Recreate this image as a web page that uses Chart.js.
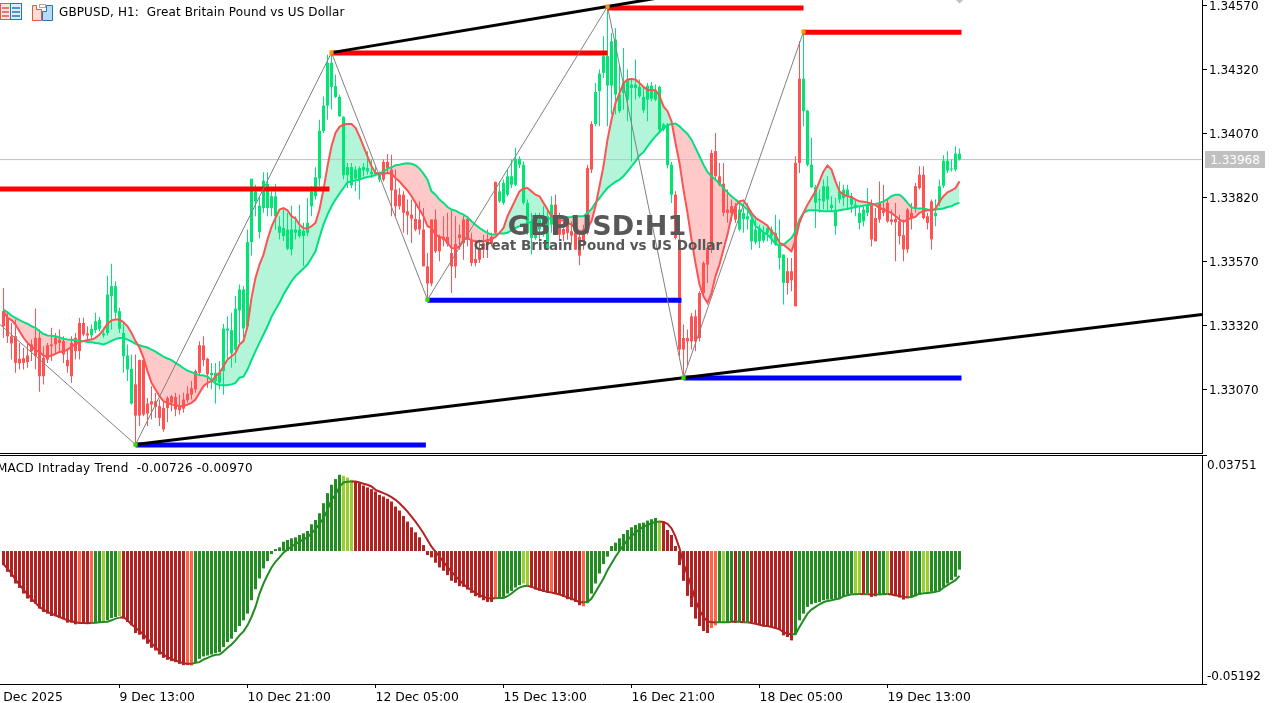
<!DOCTYPE html>
<html><head><meta charset="utf-8">
<style>
html,body{margin:0;padding:0;background:#fff;width:1279px;height:703px;overflow:hidden}
canvas{position:absolute;left:0;display:block}
.t{position:absolute;white-space:pre;font-family:"DejaVu Sans",sans-serif;font-size:12px;line-height:14px;color:#000;z-index:5}
.rule{position:absolute;background:#000;height:1px;z-index:4}
</style>
<script src="https://cdn.jsdelivr.net/npm/chart.js@4"></script>
</head><body>
<svg style="position:absolute;left:0;top:3px;z-index:5" width="56" height="18" viewBox="0 0 56 18">
<rect x="0.5" y="0.5" width="10" height="16" fill="#fbe3df" stroke="#e0584c"/><rect x="10.5" y="0.5" width="11" height="16" fill="#dcecf8" stroke="#1f78b4"/>
<path d="M2 5h7M2 9h7M2 13h7" stroke="#e0584c" stroke-width="1.5"/><path d="M12 5h8M12 9h8M12 13h8" stroke="#1f78b4" stroke-width="1.5"/>
<path d="M32.5 2.5h4v4h5v11h-9z" fill="#fbdcd6" stroke="#e0584c"/><path d="M46.5 2.5h6v15h-10v-9h4z" fill="#b9dcf5" stroke="#1f78b4"/><rect x="39.5" y="1.5" width="6" height="3" fill="#fff" stroke="#aaa"/>
</svg>
<canvas id="top" width="1279" height="453" style="top:0;width:1279px;height:453px"></canvas>
<canvas id="bot" width="1279" height="248" style="top:455px;width:1279px;height:248px"></canvas>
<div class="rule" style="left:0;top:453px;width:1203px"></div>
<div class="rule" style="left:0;top:455px;width:1207px"></div>
<div class="t" style="left:59px;top:5px;letter-spacing:.11px">GBPUSD, H1:  Great Britain Pound vs US Dollar</div>
<div class="t" style="left:-3px;top:461px;letter-spacing:.26px">MACD Intraday Trend  -0.00726 -0.00970</div>
<div class="t" style="left:497px;top:209px;width:200px;text-align:center;font:bold 27px 'DejaVu Sans',sans-serif;line-height:34px;color:#585858">GBPUSD:H1</div>
<div class="t" style="left:463px;top:237px;width:270px;text-align:center;font:bold 13.5px 'DejaVu Sans',sans-serif;line-height:16px;color:#585858">Great Britain Pound vs US Dollar</div>
<div class="t" style="left:1205px;top:151px;width:60px;height:17px;background:#c0c0c0;color:#fff;text-align:center;line-height:18px">1.33968</div>
<script>
// Prices are stored as points above 1.30000 (3968 = 1.33968). MACD values are in 1e-5 units.
const opens=[3376,3350,3278,3278,3190,3192,3203,3246,3272,3272,
3194,3243,3246,3272,3265,3259,3185,3252,3272,3330,
3330,3289,3281,3302,3307,3281,3291,3435,3370,3307,
3200,3148,3015,3090,3185,3185,3015,3024,3024,3005,
2998,3037,3044,3041,3005,3031,3054,3075,3142,3243,
3242,3190,3126,3103,3096,3142,3300,3211,3226,3379,
3308,3317,3646,3805,3685,3779,3779,3779,3747,3682,
3669,3620,3617,3682,3669,3669,3682,3786,3825,3894,
4079,4179,4252,4213,4137,3907,3907,3868,3894,3890,
3926,3922,3911,3911,3890,3959,3959,3929,3851,3831,
3831,3766,3753,3736,3734,3695,3551,3734,3734,3668,
3666,3666,3603,3639,3675,3734,3736,3655,3580,3623,
3642,3658,3666,3881,3805,3799,3831,3870,3870,3948,
3799,3682,3662,3662,3695,3714,3616,3714,3792,3740,
3697,3740,3688,3682,3666,3697,3935,4107,4107,4235,
4307,4257,4257,4222,4157,4228,4202,4248,4248,4215,
4161,4202,4206,4202,4085,4085,3946,3831,3831,3656,
3271,3271,3356,3356,3447,3564,3623,3994,4001,3903,
3874,3773,3786,3786,3695,3736,3734,3649,3645,3649,
3652,3682,3669,3636,3584,3486,3532,3532,3955,4284,
4157,3948,3860,3799,3809,3805,3812,3779,3708,3812,
3818,3825,3792,3779,3721,3727,3760,3792,3740,3799,
3779,3799,3734,3736,3727,3673,3773,3760,3864,3909,
3909,3747,3805,3747,3799,3866,3925,3929,3929,3968];
const closes=[3317,3278,3250,3174,3172,3174,3177,3220,3200,3122,
3122,3187,3239,3246,3252,3207,3161,3122,3220,3220,
3285,3281,3307,3337,3341,3289,3441,3474,3474,3376,
3291,3203,3151,2968,2968,2972,2976,3011,3002,2959,
2914,2998,3018,2992,2989,2995,3028,3050,3070,3135,
3185,3129,3135,3135,3135,3308,3308,3302,3386,3461,
3461,3646,3893,3844,3788,3886,3873,3825,3825,3708,
3701,3695,3695,3695,3695,3690,3721,3844,3899,4081,
4179,4346,4346,4255,4213,4135,3939,3939,3929,3935,
3939,3935,3921,3919,3909,3890,3935,3848,3786,3786,
3760,3750,3737,3695,3695,3551,3484,3484,3610,3610,
3655,3639,3551,3551,3662,3642,3655,3564,3564,3577,
3616,3642,3640,3682,3844,3877,3903,3903,3971,3971,
3948,3799,3727,3734,3734,3747,3747,3792,3740,3675,
3675,3682,3671,3616,3593,3649,3682,3929,4232,4304,
4372,4372,4430,4437,4222,4267,4281,4261,4261,4252,
4213,4257,4257,4239,4252,4105,4105,3948,3662,3226,
3226,3258,3258,3258,3271,3447,3558,3623,3903,3870,
3760,3760,3760,3734,3773,3760,3747,3734,3695,3701,
3682,3701,3695,3682,3636,3597,3486,3497,3395,3955,
4284,4159,3948,3860,3814,3864,3864,3792,3773,3844,
3851,3851,3825,3792,3760,3773,3792,3656,3649,3734,
3760,3727,3725,3723,3669,3617,3617,3740,3779,3857,
3740,3721,3656,3760,3864,3964,3964,3933,3991,3991];
const highs=[3467,3370,3330,3343,3252,3233,3252,3265,3386,3304,
3239,3252,3311,3291,3304,3278,3226,3278,3291,3350,
3350,3317,3324,3370,3354,3311,3515,3561,3493,3389,
3330,3246,3207,3207,3187,3187,3037,3083,3057,3031,
3031,3044,3050,3057,3050,3057,3083,3103,3148,3259,
3278,3194,3174,3174,3181,3327,3356,3370,3435,3480,
3474,3695,3893,3870,3825,3919,3919,3844,3873,3747,
3779,3760,3788,3747,3792,3721,3818,3864,3938,4124,
4215,4378,4385,4300,4222,4137,3955,3955,3942,3942,
3955,4001,3968,3942,3922,3968,3990,3987,3929,3857,
3844,3812,3812,3805,3805,3779,3603,3734,3773,3675,
3747,3760,3773,3747,3714,3747,3747,3682,3655,3655,
3675,3695,3682,3883,3883,3890,3929,3968,4014,3981,
3961,3812,3760,3760,3760,3786,3773,3825,3831,3760,
3727,3747,3727,3695,3682,3714,3948,4118,4267,4320,
4450,4554,4463,4482,4333,4404,4320,4287,4359,4281,
4248,4267,4271,4261,4257,4111,4111,3959,3844,3682,
3324,3304,3369,3382,3454,3571,3643,4007,4072,3955,
3955,3851,3812,3799,3799,3779,3799,3753,3747,3714,
3708,3714,3708,3753,3734,3597,3584,3584,3981,4430,
4463,4163,4053,3870,3851,3890,3903,3825,3818,3883,
3870,3870,3838,3812,3786,3792,3857,3812,3779,3883,
3870,3818,3773,3799,3753,3734,3779,3799,3877,3942,
3942,3760,3812,3812,3890,3985,4001,3968,4020,4011];
const lows=[3272,3252,3187,3135,3148,3148,3155,3181,3148,3061,
3090,3174,3181,3213,3213,3174,3135,3096,3187,3187,
3278,3259,3265,3291,3298,3272,3281,3304,3343,3291,
3135,3103,3011,2862,2927,2966,2927,2953,2959,2927,
2905,2942,2985,2966,2972,2979,3018,3031,3057,3122,
3161,3077,3070,3015,3070,3050,3187,3155,3174,3252,
3272,3304,3593,3747,3660,3760,3747,3747,3695,3656,
3650,3614,3593,3656,3662,3552,3669,3747,3812,3864,
4072,4124,4163,4209,4135,3890,3857,3857,3844,3812,
3903,3909,3896,3903,3880,3883,3916,3747,3747,3773,
3682,3675,3642,3688,3675,3551,3428,3473,3603,3571,
3629,3629,3447,3506,3616,3577,3629,3551,3551,3564,
3584,3584,3629,3675,3799,3792,3825,3857,3864,3935,
3792,3675,3597,3655,3623,3668,3616,3682,3727,3655,
3649,3655,3636,3616,3555,3616,3675,3916,4098,4098,
4287,4098,4144,4144,4150,4163,4118,3961,4202,4209,
4150,4118,4196,4196,4079,4079,3933,3799,3656,3200,
3128,3161,3226,3219,3258,3441,3486,3603,3890,3864,
3747,3721,3727,3721,3688,3682,3695,3616,3636,3623,
3643,3649,3636,3632,3538,3402,3441,3454,3395,3916,
4098,3942,3857,3701,3760,3773,3766,3766,3675,3799,
3786,3779,3760,3747,3695,3708,3747,3629,3649,3721,
3747,3721,3714,3571,3636,3571,3603,3695,3760,3851,
3734,3695,3616,3708,3786,3857,3916,3922,3922,3965];
const fastMA=[3376,3350,3341,3324,3298,3272,3252,3237,3224,3216,
3203,3196,3203,3209,3217,3218,3226,3237,3246,3255,
3259,3263,3265,3272,3285,3304,3327,3341,3343,3343,
3333,3317,3291,3259,3233,3194,3142,3096,3070,3044,
3024,3018,3011,3009,3005,3005,3011,3018,3031,3057,
3083,3096,3103,3122,3135,3161,3187,3200,3213,3246,
3259,3317,3428,3506,3558,3597,3656,3705,3740,3773,
3779,3770,3747,3738,3714,3701,3698,3708,3721,3773,
3851,3942,4020,4072,4096,4105,4107,4107,4092,4059,
4020,3981,3942,3916,3913,3913,3916,3913,3896,3883,
3864,3848,3825,3799,3773,3747,3708,3701,3675,3666,
3662,3642,3623,3620,3629,3655,3662,3653,3648,3648,
3649,3652,3658,3666,3682,3701,3747,3779,3812,3844,
3855,3857,3844,3831,3825,3799,3773,3747,3734,3731,
3730,3721,3714,3701,3688,3688,3701,3727,3786,3864,
3942,4046,4124,4189,4228,4267,4281,4283,4281,4267,
4252,4241,4239,4239,4218,4176,4157,4118,4033,3955,
3851,3760,3656,3564,3480,3434,3408,3447,3512,3558,
3617,3675,3747,3786,3805,3809,3786,3760,3740,3731,
3721,3710,3688,3675,3643,3636,3623,3610,3656,3721,
3760,3792,3818,3844,3883,3922,3945,3929,3883,3844,
3831,3825,3822,3812,3805,3803,3801,3796,3790,3779,
3773,3766,3760,3747,3734,3725,3734,3740,3744,3760,
3766,3770,3770,3775,3805,3825,3840,3848,3857,3883];
const slowMA=[3382,3372,3359,3350,3341,3333,3327,3317,3311,3298,
3287,3281,3280,3278,3273,3268,3265,3264,3263,3260,
3259,3256,3255,3252,3250,3246,3252,3260,3267,3271,
3271,3265,3258,3248,3243,3238,3234,3226,3218,3208,
3198,3191,3185,3174,3164,3153,3144,3138,3131,3127,
3125,3120,3106,3093,3088,3087,3088,3090,3096,3116,
3120,3148,3185,3220,3252,3285,3317,3354,3382,3409,
3441,3467,3493,3513,3528,3543,3558,3584,3610,3665,
3714,3753,3786,3812,3835,3857,3880,3883,3887,3890,
3896,3900,3903,3908,3913,3922,3933,3938,3946,3948,
3952,3954,3952,3946,3933,3913,3890,3844,3831,3812,
3799,3783,3773,3769,3760,3753,3743,3727,3714,3701,
3691,3682,3675,3676,3679,3679,3682,3692,3701,3708,
3714,3718,3727,3736,3739,3737,3736,3739,3740,3740,
3741,3743,3744,3747,3747,3747,3760,3775,3799,3818,
3838,3857,3870,3881,3890,3903,3922,3942,3961,3984,
3997,4020,4040,4059,4076,4092,4102,4107,4109,4098,
4083,4068,4046,4014,3981,3948,3920,3903,3890,3874,
3857,3840,3825,3812,3799,3786,3773,3747,3708,3697,
3684,3675,3658,3640,3632,3635,3649,3662,3688,3734,
3760,3769,3770,3770,3768,3766,3766,3766,3766,3770,
3773,3775,3779,3783,3786,3788,3791,3792,3795,3799,
3805,3814,3825,3831,3831,3818,3799,3782,3778,3777,
3777,3773,3771,3773,3775,3777,3783,3786,3795,3799];
const macdHist=[-549,-810,-1006,-1268,-1438,-1660,-1856,-1987,-2052,-2248,
-2379,-2444,-2536,-2549,-2614,-2666,-2797,-2797,-2862,-2810,
-2810,-2836,-2810,-2771,-2771,-2732,-2705,-2614,-2575,-2536,
-2640,-2771,-2902,-3202,-3268,-3450,-3620,-3777,-3882,-4039,
-4169,-4248,-4300,-4339,-4405,-4457,-4457,-4470,-4339,-4209,
-4117,-4078,-4039,-3986,-3947,-3751,-3555,-3424,-3163,-2928,
-2705,-2444,-1921,-1490,-1072,-680,-392,-118,78,144,
366,431,497,536,627,693,784,1046,1216,1477,
1869,2261,2588,2810,2980,2941,2875,2784,2719,2653,
2562,2483,2418,2326,2196,2130,2039,1934,1738,1581,
1372,1150,928,732,536,235,-157,-248,-457,-640,
-771,-941,-1163,-1242,-1372,-1398,-1503,-1634,-1764,-1817,
-1921,-1987,-1987,-1856,-1830,-1791,-1660,-1555,-1425,-1333,
-1268,-1372,-1425,-1503,-1555,-1595,-1634,-1595,-1660,-1686,
-1791,-1882,-1921,-1987,-2117,-2157,-2026,-1660,-1268,-876,
-510,-222,196,327,497,667,823,928,1019,1085,
1111,1189,1242,1294,1150,1150,823,627,196,-549,
-1163,-1751,-2183,-2640,-2928,-3124,-3202,-3006,-2902,-2771,
-2771,-2771,-2771,-2810,-2771,-2797,-2771,-2771,-2836,-2875,
-2941,-2941,-2967,-3032,-3071,-3294,-3359,-3490,-3254,-2705,
-2444,-2183,-2078,-2026,-1987,-1921,-1895,-1882,-1856,-1830,
-1764,-1699,-1660,-1660,-1660,-1686,-1660,-1791,-1764,-1725,
-1686,-1660,-1686,-1764,-1817,-1895,-1856,-1791,-1764,-1699,
-1595,-1595,-1595,-1595,-1529,-1398,-1268,-1137,-1006,-726];
const macdSignal=[-510,-680,-876,-1111,-1307,-1503,-1686,-1856,-2026,-2183,
-2287,-2379,-2444,-2509,-2575,-2640,-2705,-2745,-2784,-2810,
-2810,-2823,-2810,-2797,-2784,-2771,-2758,-2705,-2640,-2601,
-2575,-2705,-2862,-2993,-3124,-3254,-3424,-3594,-3751,-3921,
-4039,-4143,-4209,-4274,-4326,-4378,-4405,-4405,-4365,-4339,
-4235,-4169,-4104,-4052,-4039,-3921,-3777,-3647,-3490,-3294,
-3137,-2902,-2575,-2183,-1660,-1268,-941,-640,-418,-248,
-65,65,170,274,366,457,536,693,849,1059,
1281,1608,2000,2196,2522,2679,2705,2719,2719,2679,
2627,2588,2522,2392,2326,2261,2196,2104,2000,1869,
1712,1542,1346,1150,928,693,431,170,-26,-222,
-418,-614,-810,-980,-1137,-1294,-1425,-1529,-1634,-1725,
-1791,-1830,-1856,-1843,-1830,-1830,-1764,-1660,-1529,-1425,
-1372,-1359,-1398,-1451,-1503,-1555,-1595,-1621,-1660,-1699,
-1751,-1804,-1856,-1921,-2000,-2000,-2000,-1856,-1595,-1333,
-1072,-745,-484,-222,13,235,431,588,719,849,
954,1019,1085,1137,1150,1137,1059,889,562,105,
-484,-941,-1398,-1921,-2313,-2575,-2745,-2784,-2784,-2784,
-2784,-2784,-2771,-2745,-2771,-2784,-2784,-2810,-2836,-2875,
-2915,-2928,-2967,-3006,-3058,-3163,-3228,-3254,-3254,-2967,
-2705,-2444,-2287,-2183,-2078,-2000,-1947,-1921,-1882,-1856,
-1764,-1725,-1686,-1686,-1673,-1686,-1686,-1699,-1699,-1686,
-1686,-1673,-1699,-1725,-1751,-1791,-1804,-1791,-1725,-1673,
-1647,-1634,-1621,-1595,-1555,-1425,-1333,-1229,-1137,-970];
const macdState=("RRRRRRRRRR"+"RRRRRRRRRO"+"RROGGYGGGY"+"RRRRRRRRRR"+"RRRRRROOGG"+"GGGGGGGGGG"+"GGGGGGGGGG"+"GGGGGGGGGG"+
"GGGGGYYYRR"+"RRRRRRRRRR"+"RRRRRRRRRR"+"RRRRRRRRRR"+"RRROGGGGGG"+"YYRRRRRORR"+"RRRRROGGGG"+"GGGGGGGGGG"+
"GGGGYRRRRR"+"RRRRRRROOG"+"YGGRGRGRRR"+"RRRRRRRRGG"+"GGGGGGGGGG"+"GGGYYRGRRG"+"GYRRRROGGG"+"YYGGGGGGGG").split("");
const stateColors={R:"#b22222",O:"#ff6347",G:"#228b22",Y:"#9acd32"};

const priceTicks=[4570,4320,4070,3820,3570,3320,3070];
const priceLabelNudge=6;
const bidPrice=3968;
const xTickBars=[-3,29,61,93,125,157,189,221];
const xTickLabels=["8 Dec 2025","9 Dec 13:00","10 Dec 21:00","12 Dec 05:00","15 Dec 13:00","16 Dec 21:00","18 Dec 05:00","19 Dec 13:00"];
const macdTickValues=[3751,3320,-4917,-5192];
const macdTickLabels=["","0.03751","-0.05192",""];
// [first bar, last bar, price]
const resistanceLevels=[[-1,81.5,3853],[82,151,4384],[151,200,4560],[200,239.5,4466]];
const supportLevels=[[33,105.6,2853],[106,169.5,3419],[170,239.5,3115]];
const zigzagBars=[-0.875,33,82,106,151,170,200];
const zigzagPrices=[3324,2855,4386,3421,4566,3116,4468];
const lowerTrendBars=[33,170,299.625];
const lowerTrendPrices=[2855,3116,3363];
const upperTrendBars=[82,151,165];
const upperTrendPrices=[4386,4566,4603];

const UP="#00e676", DOWN="#ff5252", LEVEL_R="#ff0000", LEVEL_B="#0000ff";
const FONT="'DejaVu Sans',sans-serif";
const xMin=-0.875, xMax=299.625;
const bars=opens.map((_,i)=>i);
const candleColor=bars.map(i=>closes[i]>=opens[i]?UP:DOWN);
const priceLabel=v=>((130000+v)/100000).toFixed(5);
const nPrice=priceTicks.length;

const fixAxis=(w,h)=>s=>{ if(w)s.width=w; if(h)s.height=h; s.paddingTop=s.paddingBottom=s.paddingLeft=s.paddingRight=0; };
const common={responsive:false,animation:false,devicePixelRatio:1,events:[],
  layout:{padding:0,autoPadding:false},
  plugins:{legend:{display:false},tooltip:{enabled:false},filler:{drawTime:"beforeDatasetsDraw",propagate:false}}};
const seg=(xs,ys,color,width,order)=>({type:"line",data:xs.map((x,i)=>({x,y:ys[i]})),borderColor:color,borderWidth:width,pointRadius:0,fill:false,order,tension:0,borderCapStyle:"butt"});
const level=(l,color)=>seg([l[0],l[1]],[l[2],l[2]],color,5,30);

const topDatasets=[
  {type:"bar",data:bars.map(i=>({x:i,y:[lows[i],highs[i]]})),backgroundColor:candleColor,barThickness:1,borderWidth:0,inflateAmount:0,grouped:false,order:51},
  {type:"bar",data:bars.map(i=>({x:i,y:[opens[i],closes[i]]})),backgroundColor:candleColor,barThickness:3,borderWidth:0,inflateAmount:0,grouped:false,minBarLength:1,order:50},
  {type:"line",data:bars.map(i=>({x:i,y:slowMA[i]})),borderColor:"#00e080",borderWidth:2,pointRadius:0,tension:0,fill:false,order:40},
  {type:"line",data:bars.map(i=>({x:i,y:fastMA[i]})),borderColor:"#ff5252",borderWidth:2,pointRadius:0,tension:0,order:39,
    fill:{target:2,above:"#b3f5d8",below:"#ffc9c9"}},
  seg([xMin,xMax],[bidPrice,bidPrice],"#c0c0c0",1,60),
  ...resistanceLevels.map(l=>level(l,LEVEL_R)),
  ...supportLevels.map(l=>level(l,LEVEL_B)),
  seg(zigzagBars,zigzagPrices,"#808080",1,20),
  seg(lowerTrendBars,lowerTrendPrices,"#000",3,10),
  seg(upperTrendBars,upperTrendPrices,"#000",3,10),
  {type:"scatter",data:[82,151,200].map(x=>({x,y:zigzagPrices[zigzagBars.indexOf(x)]})),pointStyle:"rect",pointRadius:3,pointBackgroundColor:"#ff9800",pointBorderWidth:0,order:5},
  {type:"scatter",data:[33,106,170].map(x=>({x,y:zigzagPrices[zigzagBars.indexOf(x)]})),pointStyle:"rect",pointRadius:3,pointBackgroundColor:"#33dd00",pointBorderWidth:0,order:5},
  {type:"scatter",data:[{x:239,y:4593}],pointStyle:"rectRot",pointRadius:4,pointBackgroundColor:"#c0c0c0",pointBorderWidth:0,order:5}
];
new Chart(document.getElementById("top"),{type:"bar",data:{datasets:topDatasets},options:{...common,
  scales:{
    x:{type:"linear",display:false,min:xMin,max:xMax,offset:false,grid:{offset:false}},
    y:{type:"linear",position:"right",min:2822,max:4591.5,
      afterFit:fixAxis(77,0),
      afterBuildTicks:s=>{s.ticks=[...priceTicks.map(value=>({value})),...priceTicks.map(v=>({value:v-priceLabelNudge}))];},
      border:{color:"#000",width:1},
      grid:{drawOnChartArea:false,tickLength:5,tickColor:c=>c.index<nPrice?"#000":"transparent",tickWidth:1},
      ticks:{padding:2,color:"#000",font:{family:FONT,size:12},autoSkip:false,
        callback:(v,i)=>i<nPrice?"":priceLabel(priceTicks[i-nPrice])}}
  }}});

const lineState=i=>macdState[i]==="G"||macdState[i]==="Y"?"#228b22":"#b22222";
new Chart(document.getElementById("bot"),{type:"bar",data:{datasets:[
  {type:"bar",data:bars.map(i=>({x:i,y:macdHist[i]})),backgroundColor:bars.map(i=>stateColors[macdState[i]]),barThickness:3,borderWidth:0,inflateAmount:0,grouped:false,order:2},
  {type:"line",data:bars.map(i=>({x:i,y:macdSignal[i]})),borderWidth:2,pointRadius:0,tension:0,fill:false,order:1,borderColor:"#228b22",
    segment:{borderColor:c=>lineState(c.p1DataIndex)}}
]},options:{...common,
  scales:{
    x:{type:"linear",position:"bottom",min:xMin,max:xMax,offset:false,
      afterFit:fixAxis(0,19),
      afterBuildTicks:s=>{s.ticks=xTickBars.map(value=>({value}));},
      border:{color:"#000",width:1},
      grid:{drawOnChartArea:false,offset:false,tickLength:4,tickColor:"#000"},
      ticks:{align:"start",padding:2,color:"#000",font:{family:FONT,size:12.4},autoSkip:false,maxRotation:0,minRotation:0,
        callback:v=>xTickLabels[xTickBars.indexOf(v)]}},
    y:{type:"linear",position:"right",min:-5192,max:3751,
      afterFit:fixAxis(77,0),
      afterBuildTicks:s=>{s.ticks=macdTickValues.map(value=>({value}));},
      border:{color:"#000",width:1},
      grid:{drawOnChartArea:false,tickLength:5,tickColor:c=>macdTickLabels[c.index]?"transparent":"#000"},
      ticks:{padding:0,color:"#000",font:{family:FONT,size:12},autoSkip:false,
        callback:v=>macdTickLabels[macdTickValues.indexOf(v)]}}
  }}});
</script>
</body></html>
